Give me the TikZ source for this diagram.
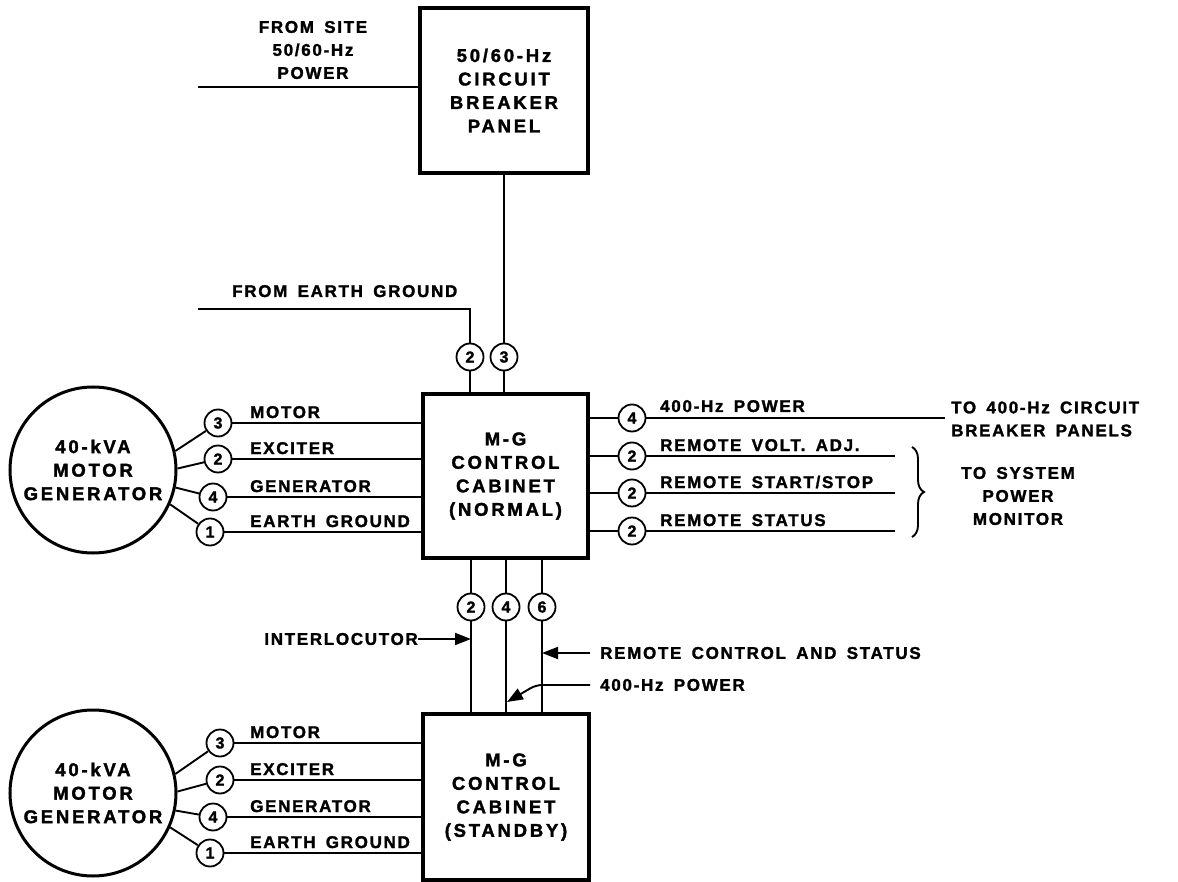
\documentclass[tikz,border=0pt]{standalone}
\usepackage{fontspec}
\setmainfont{Liberation Sans}
\newfontfamily\lblfamily[LetterSpace=10,WordSpace=1.6,FakeBold=1.6]{Liberation Sans}
\newfontfamily\boxfamily[LetterSpace=15,WordSpace=1.6,FakeBold=1.8]{Liberation Sans}
\newfontfamily\numfamily[FakeBold=1.6]{Liberation Sans}
\newcommand\bxfnt{\boxfamily\bfseries\fontsize{18.5}{23.5}\selectfont}
\newcommand\lbfnt{\lblfamily\bfseries\fontsize{17}{23}\selectfont}
\newcommand\nmfnt{\numfamily\bfseries\fontsize{16}{16}\selectfont}
\usetikzlibrary{arrows.meta,decorations.pathreplacing}
\begin{document}
\begin{tikzpicture}[x=1pt,y=-1pt,
  wire/.style={line width=1.9pt},
  blk/.style={draw, line width=4.2pt, align=center, font=\bxfnt, inner sep=0pt},
  mg/.style={circle, draw, line width=3pt, minimum size=166pt, align=center, font=\bxfnt, inner sep=0pt},
  num/.style={circle, draw, fill=white, line width=1.8pt, minimum size=27pt, inner sep=0pt, font=\nmfnt},
  lbl/.style={font=\lbfnt, inner sep=0pt},
  arr/.style={wire, -{Triangle[length=16pt,width=12pt]}}]
\useasboundingbox (0,0) rectangle (1178,882);

% ---- boxes
\node[blk, minimum width=168pt, minimum height=165pt] (cbp) at (504,90.5) {50/60-Hz\\CIRCUIT\\BREAKER\\PANEL};
\node[blk, minimum width=165pt, minimum height=164pt] (normal) at (505.5,476) {M-G\\CONTROL\\CABINET\\(NORMAL)};
\node[blk, minimum width=166pt, minimum height=166pt] (standby) at (506,797) {M-G\\CONTROL\\CABINET\\(STANDBY)};

% ---- top inputs
\node[lbl, align=center] (sitetxt) at (313,50) {FROM SITE\\50/60-Hz\\POWER};
\coordinate (site) at (198,87);
\draw[wire] (site) -- (site -| cbp.west);

\node[lbl, anchor=base west] (egtxt) at (232,297) {FROM EARTH GROUND};
\coordinate (eg) at (198,309);
\node[num] (t2) at (470,357) {2};
\node[num] (t3) at (504,357) {3};
\draw[wire] (eg) -| (t2.north);
\draw[wire] (t2.south) -- (t2.south |- normal.north);
\draw[wire] (cbp.south -| t3) -- (t3.north);
\draw[wire] (t3.south) -- (t3.south |- normal.north);

% ---- top motor generator
\node[mg] (mg1) at (93,470) {40-kVA\\MOTOR\\GENERATOR};
\node[num] (a3) at (218,423) {3};
\node[num] (a2) at (218,459) {2};
\node[num] (a4) at (213,497) {4};
\node[num] (a1) at (210,532) {1};
\draw[wire] (mg1.13) -- (a3);
\draw[wire] (mg1.1) -- (a2);
\draw[wire] (mg1.-12) -- (a4);
\draw[wire] (mg1.-24) -- (a1);
\draw[wire] (a3) -- (a3 -| normal.west);
\draw[wire] (a2) -- (a2 -| normal.west);
\draw[wire] (a4) -- (a4 -| normal.west);
\draw[wire] (a1) -- (a1 -| normal.west);
\node[lbl, anchor=base west] (la3) at (250,418) {MOTOR};
\node[lbl, anchor=base west] (la2) at (250,454) {EXCITER};
\node[lbl, anchor=base west] (la4) at (250,492) {GENERATOR};
\node[lbl, anchor=base west] (la1) at (250,527) {EARTH GROUND};

% ---- right outputs
\node[num] (r4) at (632,418) {4};
\node[num] (r2a) at (632,456) {2};
\node[num] (r2b) at (632,493) {2};
\node[num] (r2c) at (632,531) {2};
\coordinate (e4) at (945,418);
\coordinate (e2a) at (895,456);
\coordinate (e2b) at (895,493);
\coordinate (e2c) at (895,531);
\draw[wire] (r4 -| normal.east) -- (r4) -- (e4);
\draw[wire] (r2a -| normal.east) -- (r2a) -- (e2a);
\draw[wire] (r2b -| normal.east) -- (r2b) -- (e2b);
\draw[wire] (r2c -| normal.east) -- (r2c) -- (e2c);
\node[lbl, anchor=base west] (lr4) at (660,412) {400-Hz POWER};
\node[lbl, anchor=base west] (lr2a) at (660,451) {REMOTE VOLT. ADJ.};
\node[lbl, anchor=base west] (lr2b) at (660,488) {REMOTE START/STOP};
\node[lbl, anchor=base west] (lr2c) at (660,526) {REMOTE STATUS};
\node[lbl, align=left, anchor=west] (to400) at (951,419) {TO 400-Hz CIRCUIT\\BREAKER PANELS};
\draw[wire, decorate, decoration={brace, amplitude=12pt}] (912,447) -- (912,537);
\node[lbl, align=center] (tosys) at (1018,496) {TO SYSTEM\\POWER\\MONITOR};

% ---- bottom links
\node[num] (b2) at (471,607) {2};
\node[num] (b4) at (506,607) {4};
\node[num] (b6) at (542,607) {6};
\draw[wire] (normal.south -| b2) -- (b2.north);
\draw[wire] (normal.south -| b4) -- (b4.north);
\draw[wire] (normal.south -| b6) -- (b6.north);
\draw[wire] (b2.south) -- (b2.south |- standby.north);
\draw[wire] (b4.south) -- (b4.south |- standby.north);
\draw[wire] (b6.south) -- (b6.south |- standby.north);

\node[lbl, anchor=east] (intl) at (418,639) {INTERLOCUTOR};
\coordinate (intip) at (471,639);
\draw[arr] (intl.east) -- (intip);

\node[lbl, anchor=west] (rcs) at (600,653) {REMOTE CONTROL AND STATUS};
\coordinate (rctip) at (542,653);
\draw[arr] ([xshift=-10pt]rcs.west) -- (rctip);

\node[lbl, anchor=west] (hzp) at (600,685) {400-Hz POWER};
\coordinate (hzbend) at (536,685);
\coordinate (hztip) at (507,702);
\draw[arr, rounded corners=6pt] ([xshift=-10pt]hzp.west) -- (hzbend) -- (hztip);

% ---- bottom motor generator
\node[mg] (mg2) at (93,793) {40-kVA\\MOTOR\\GENERATOR};
\node[num] (c3) at (220,743) {3};
\node[num] (c2) at (220,780) {2};
\node[num] (c4) at (213,817) {4};
\node[num] (c1) at (210,853) {1};
\draw[wire] (mg2.13) -- (c3);
\draw[wire] (mg2.1) -- (c2);
\draw[wire] (mg2.-12) -- (c4);
\draw[wire] (mg2.-24) -- (c1);
\draw[wire] (c3) -- (c3 -| standby.west);
\draw[wire] (c2) -- (c2 -| standby.west);
\draw[wire] (c4) -- (c4 -| standby.west);
\draw[wire] (c1) -- (c1 -| standby.west);
\node[lbl, anchor=base west] (lc3) at (250,738) {MOTOR};
\node[lbl, anchor=base west] (lc2) at (250,775) {EXCITER};
\node[lbl, anchor=base west] (lc4) at (250,812) {GENERATOR};
\node[lbl, anchor=base west] (lc1) at (250,848) {EARTH GROUND};
\end{tikzpicture}
\end{document}
